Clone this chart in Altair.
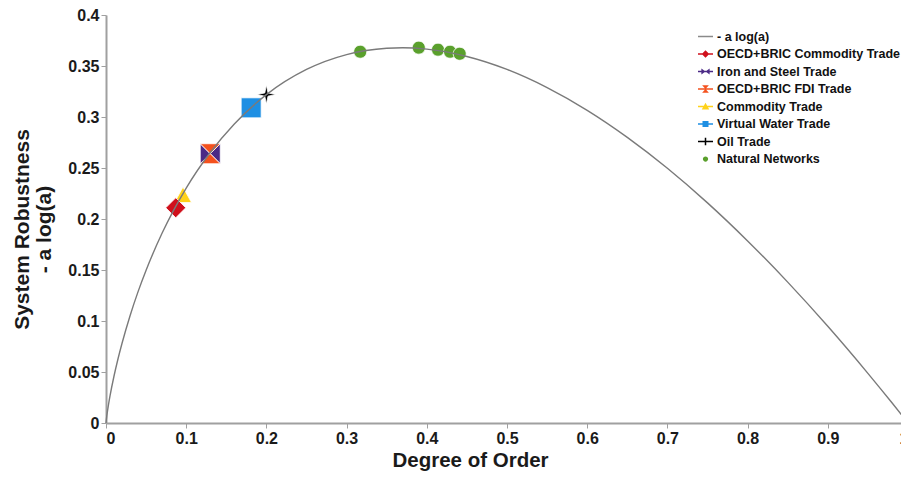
import altair as alt
import pandas as pd

# ---- data ----
curve_order = [0.0, 0.0005, 0.001, 0.003, 0.005, 0.01, 0.015, 0.02, 0.03, 0.04, 0.05, 0.07,
               0.1, 0.13, 0.16, 0.2, 0.25, 0.3, 0.35, 0.37, 0.4, 0.45, 0.5, 0.55, 0.6,
               0.65, 0.7, 0.75, 0.8, 0.85, 0.9, 0.95, 0.98, 1.0]
curve_value = [0.0, 0.0038, 0.0069, 0.0174, 0.0265, 0.0461, 0.0630, 0.0782, 0.1052, 0.1288,
               0.1498, 0.1862, 0.2303, 0.2652, 0.2932, 0.3219, 0.3466, 0.3612, 0.3674, 0.3679,
               0.3665, 0.3593, 0.3466, 0.3288, 0.3065, 0.2800, 0.2497, 0.2158, 0.1785,
               0.1381, 0.0948, 0.0487, 0.0198, 0.0]

point_series = ["Commodity Trade", "OECD+BRIC Commodity Trade", "Iron and Steel Trade",
                "OECD+BRIC FDI Trade", "Virtual Water Trade", "Oil Trade",
                "Natural Networks", "Natural Networks", "Natural Networks",
                "Natural Networks", "Natural Networks"]
point_order = [0.096, 0.087, 0.130, 0.130, 0.181, 0.200, 0.317, 0.390, 0.414, 0.429, 0.441]
point_value = [0.222, 0.211, 0.264, 0.264, 0.309, 0.322, 0.364, 0.368, 0.366, 0.364, 0.362]

legend_names = ["- a log(a)", "OECD+BRIC Commodity Trade", "Iron and Steel Trade",
                "OECD+BRIC FDI Trade", "Commodity Trade", "Virtual Water Trade",
                "Oil Trade", "Natural Networks"]
legend_colors = ["#8a8a8a", "#d0101c", "#4b2a86", "#f4511e", "#ffd21a", "#1e8fe3",
                 "#000000", "#5aa02c"]

x_ticks = [0, 0.1, 0.2, 0.3, 0.4, 0.5, 0.6, 0.7, 0.8, 0.9, 1.0]
y_ticks = [0, 0.05, 0.1, 0.15, 0.2, 0.25, 0.3, 0.35, 0.4]

# ---- shapes (styles) ----
marker_names = legend_names[1:]
marker_colors = legend_colors[1:]
marker_shapes = [
    "M0,-1L1,0L0,1L-1,0Z",                                   # diamond
    "M-1,-1L0,0L-1,1Z M1,-1L1,1L0,0Z",                        # bowtie
    "M-1,-1L1,-1L0,0Z M-1,1L0,0L1,1Z",                        # hourglass
    "M0,-0.95L0.85,0.6L-0.85,0.6Z",                           # triangle
    "M-1,-1L1,-1L1,1L-1,1Z",                                  # square
    "M0,-0.95L0.16,-0.16L0.95,0L0.16,0.16L0,0.95L-0.16,0.16L-0.95,0L-0.16,-0.16Z",  # star
    "M0.65,0A0.65,0.65 0 1,1 -0.65,0A0.65,0.65 0 1,1 0.65,0Z",  # circle
]
LINE = "M-1,-0.1H1V0.1H-1Z"
legend_shapes = [
    LINE,
    LINE + " M0,-0.5L0.5,0L0,0.5L-0.5,0Z",
    LINE + " M-0.55,-0.4L0,0L-0.55,0.4Z M0.55,-0.4L0.55,0.4L0,0Z",
    LINE + " M-0.45,-0.5L0.45,-0.5L0,0Z M0,0L0.45,0.5L-0.45,0.5Z",
    LINE + " M0,-0.5L0.5,0.4L-0.5,0.4Z",
    LINE + " M-0.4,-0.4L0.4,-0.4L0.4,0.4L-0.4,0.4Z",
    LINE + " M-0.1,-0.5H0.1V0.5H-0.1Z",
    "M0.35,0A0.35,0.35 0 1,1 -0.35,0A0.35,0.35 0 1,1 0.35,0Z",
]

curve_df = pd.DataFrame({"order": curve_order, "value": curve_value})
pts_df = pd.DataFrame({"series": point_series, "order": point_order, "value": point_value})

x_enc = alt.X("order:Q", scale=alt.Scale(domain=[0, 1], nice=False),
              axis=alt.Axis(values=x_ticks, format="~g", title="Degree of Order",
                            titleFontSize=20.5, titlePadding=4, titleX=364,
                            titleAlign="center"))
y_enc = alt.Y("value:Q", scale=alt.Scale(domain=[0, 0.4], nice=False),
              axis=alt.Axis(values=y_ticks, format="~g",
                            title=["System Robustness", "- a log(a)"],
                            titleFontSize=21, titleLineHeight=22,
                            titleX=-74, titleY=214))

markers = alt.Chart(pts_df).mark_point(filled=True, opacity=1, size=400,
                                       stroke="white", strokeWidth=0.8).encode(
    x=x_enc, y=y_enc,
    color=alt.Color("series:N", scale=alt.Scale(domain=marker_names, range=marker_colors),
                    legend=None),
    shape=alt.Shape("series:N", scale=alt.Scale(domain=marker_names, range=marker_shapes),
                    legend=None),
)

curve = alt.Chart(curve_df).mark_line(color="#7a7a7a", strokeWidth=1.4,
                                      interpolate="monotone").encode(x=x_enc, y=y_enc)

leg = dict(title=None, orient="none", legendX=592, legendY=14,
           symbolSize=225, symbolOpacity=1, symbolStrokeWidth=0,
           labelFont="Liberation Sans", labelFontWeight="bold",
           labelFontSize=12.5, labelColor="#111111",
           labelOffset=4, rowPadding=3.5, padding=0, labelLimit=400)

legend_layer = alt.Chart(pts_df).mark_point(filled=True, opacity=0).encode(
    x=x_enc, y=y_enc,
    color=alt.Color("series:N", scale=alt.Scale(domain=legend_names, range=legend_colors),
                    legend=alt.Legend(**leg)),
    shape=alt.Shape("series:N", scale=alt.Scale(domain=legend_names, range=legend_shapes),
                    legend=alt.Legend(**leg)),
)

chart = alt.layer(markers, curve, legend_layer).resolve_scale(
    color="independent", shape="independent"
).properties(
    width=802, height=408,
    background="white",
    autosize=alt.AutoSizeParams(type="none"),
    padding={"left": 98, "top": 7, "right": -7, "bottom": 48},
).configure_view(stroke=None).configure_axis(
    grid=False, domainColor="#a0a0a0", domainWidth=2, tickColor="#a0a0a0",
    tickSize=5, tickWidth=1, labelFont="Liberation Sans", labelFontWeight="bold",
    labelFontSize=16, labelColor="#1a1a1a", labelPadding=2,
    titleFont="Liberation Sans", titleFontWeight="bold", titleColor="#1a1a1a",
)

chart.save("out.html", embed_options={"renderer": "svg", "actions": False})
